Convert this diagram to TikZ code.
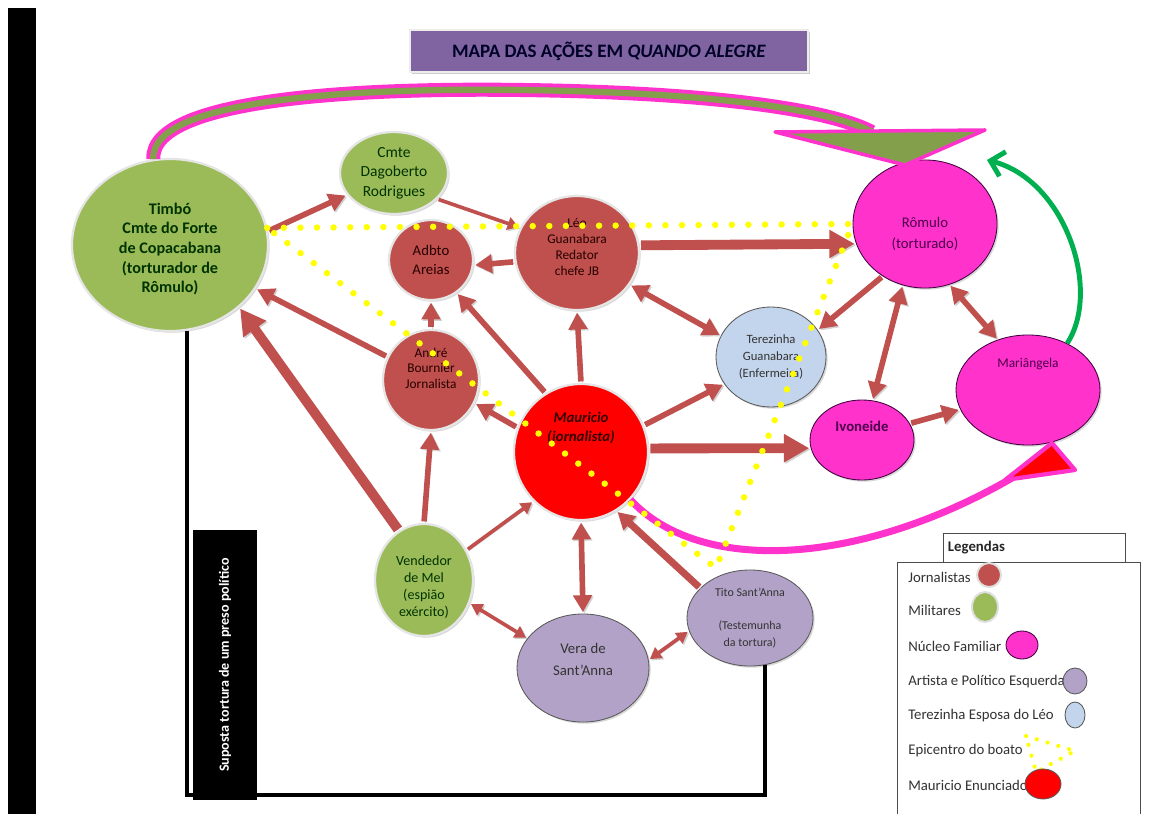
\documentclass[tikz,border=0pt]{standalone}
\usepackage{fontspec}
\setmainfont{Carlito}
\usetikzlibrary{arrows.meta,positioning,calc,shapes.geometric,shadows}

\definecolor{brick}{HTML}{C0504D}
\definecolor{milgreen}{HTML}{9BBB59}
\definecolor{famrose}{HTML}{FF33CC}
\definecolor{lilac}{HTML}{B3A2C7}
\definecolor{paleblue}{HTML}{C3D5EC}
\definecolor{titlepurple}{HTML}{8064A2}
\definecolor{arrowgreen}{HTML}{00B050}
\definecolor{boatoyellow}{HTML}{FFFF00}

\begin{document}
\begin{tikzpicture}[
    x=0.025cm,y=-0.025cm,
    font=\fontsize{10}{12}\selectfont,
    pessoa/.style={ellipse, inner sep=0pt, align=center, draw=gray!20, line width=1.6pt,
      drop shadow={shadow xshift=1.2pt, shadow yshift=-1.2pt, opacity=0.3}},
    jorn/.style={pessoa, fill=brick, text=black!85!red},
    milit/.style={pessoa, fill=milgreen, text=black!80!green},
    famil/.style={pessoa, fill=famrose, draw=violet!50!black, line width=0.6pt, text=violet!60!black},
    esq/.style={pessoa, fill=lilac, draw=gray!70!black, line width=0.6pt, text=black!80},
    tere/.style={pessoa, fill=paleblue, draw=gray!70!black, line width=0.6pt, text=black!80},
    enunc/.style={pessoa, fill=red, text=black!80!red},
    seta/.style={draw=brick, line width=4pt, -{Triangle[length=12pt,width=13pt]},
      shorten <=1pt, shorten >=1pt,
      preaction={draw=black!18, transform canvas={shift={(1pt,-1pt)}}}},
    setafina/.style={seta, line width=2.6pt, -{Triangle[length=8pt,width=9pt]}},
    setagrossa/.style={seta, line width=7pt, -{Triangle[length=18pt,width=19pt]}},
    dupla/.style={seta, {Triangle[length=12pt,width=13pt]}-{Triangle[length=12pt,width=13pt]}},
    duplafina/.style={setafina, {Triangle[length=8pt,width=9pt]}-{Triangle[length=8pt,width=9pt]}},
    boato/.style={draw=boatoyellow, line width=4.6pt, line cap=round, dash pattern=on 0pt off 11.8pt},
    legtxt/.style={anchor=west, inner sep=0pt, text=black!80, font=\fontsize{10.5}{12}\selectfont},
    legsw/.style={ellipse, inner sep=0pt, line width=0.6pt},
    linhapreta/.style={draw=black, line width=3pt}
  ]
    % fundo e moldura
    \fill[white] (0,0) rectangle (1161,814);
    \useasboundingbox (0,0) rectangle (1161,814);
    \fill[black] (8,8) rectangle (36,814);

    % titulo
    \node[fill=titlepurple, draw=gray!15, line width=1.5pt, minimum width=9.95cm, minimum height=1.05cm,
      drop shadow={shadow xshift=1.5pt, shadow yshift=-1.5pt, opacity=0.4},
      text=black!85!blue, font=\bfseries\fontsize{13.5}{16}\selectfont] (titulo) at (609,51)
      {MAPA DAS AÇÕES EM \textit{QUANDO ALEGRE}};

    % personagens
    \node[milit, minimum width=4.9cm, minimum height=4.3cm, font=\bfseries\fontsize{11.5}{14}\selectfont] (timbo) at (170,245)
      {\rule{0pt}{12pt}\\[-12pt]Timbó\\Cmte do Forte\\de Copacabana\\(torturador de\\Rômulo)};
    \node[milit, minimum width=2.7cm, minimum height=2.05cm, font=\fontsize{11}{14}\selectfont] (dago) at (394,173)
      {Cmte\\Dagoberto\\Rodrigues};
    \node[jorn, minimum width=2.1cm, minimum height=2.0cm, font=\fontsize{10.5}{14}\selectfont] (adbto) at (431,260)
      {Adbto\\Areias};
    \node[jorn, minimum width=3.1cm, minimum height=2.85cm, font=\fontsize{9.5}{11.5}\selectfont] (leo) at (577,253)
      {Léo\\Guanabara\\Redator\\chefe JB\\[-3pt]\mbox{}};
    \node[jorn, minimum width=2.4cm, minimum height=2.5cm, font=\fontsize{9.5}{11}\selectfont] (andre) at (431,380)
      {André\\Bournier\\Jornalista\\[6pt]\mbox{}};
    \node[enunc, minimum width=3.35cm, minimum height=3.4cm, font=\bfseries\itshape\fontsize{10.5}{13.5}\selectfont] (mauri) at (581,452)
      {Mauricio\\(jornalista)\\[22pt]\mbox{}};
    \node[tere, minimum width=2.75cm, minimum height=2.5cm, font=\fontsize{9}{12}\selectfont] (tere) at (771,357)
      {Terezinha\\Guanabara\\(Enfermeira)};
    \node[famil, minimum width=3.6cm, minimum height=3.2cm, font=\fontsize{10.5}{15}\selectfont] (romulo) at (925,224)
      {\rule{0pt}{15pt}\\[-9pt]Rômulo\\(torturado)};
    \node[famil, minimum width=3.6cm, minimum height=2.75cm, font=\fontsize{9.5}{12}\selectfont] (mari) at (1028,390)
      {Mariângela\\[26pt]\mbox{}};
    \node[famil, minimum width=2.6cm, minimum height=2.0cm, font=\bfseries\fontsize{10.5}{13}\selectfont] (ivo) at (862,440)
      {Ivoneide\\[6pt]\mbox{}};
    \node[milit, minimum width=2.45cm, minimum height=2.8cm, font=\fontsize{10}{12}\selectfont] (vend) at (424,580)
      {\rule{0pt}{17pt}\\[-12pt]Vendedor\\de Mel\\(espião\\exército)};
    \node[esq, minimum width=3.3cm, minimum height=2.7cm, font=\fontsize{10.5}{15.5}\selectfont] (vera) at (583,668)
      {Vera de\\Sant’Anna\\[-3pt]\mbox{}};
    \node[esq, minimum width=3.15cm, minimum height=2.4cm, font=\fontsize{8.5}{11.5}\selectfont] (tito) at (750,618)
      {Tito Sant’Anna\\[12pt](Testemunha\\da tortura)};

    % tortura suposta
    \coordinate (fundo) at (0,795);
    \draw[linhapreta] (timbo.281) -- (timbo.281 |- fundo) -| (tito.288);
    \node[fill=black, rotate=90, minimum width=6.75cm, minimum height=1.6cm, text=white,
      font=\bfseries\fontsize{10}{12}\selectfont] (caixa) at (225,665) {Suposta tortura de um preso político};

    % setas entre personagens
    \draw[seta] (timbo.8) -- (dago.205);
    \draw[setafina] (dago.329) -- (leo.156);
    \draw[seta] (leo.188) -- (adbto.353);
    \draw[setagrossa] (leo.7) -- (romulo.196);
    \draw[dupla] (leo.329) -- (tere.157);
    \draw[seta] (mauri.north) -- (leo.south);
    \draw[seta] (mauri.121) -- (adbto.308);
    \draw[seta] (andre.north) -- (adbto.south);
    \draw[seta] (andre.152) -- (timbo.333);
    \draw[seta] (mauri.159) -- (andre.332);
    \draw[setagrossa] (vend.117) -- (timbo.318);
    \draw[seta] (vend.north) -- (andre.south);
    \draw[setafina] (vend.35) -- (mauri.226);
    \draw[seta] (mauri.23) -- (tere.210);
    \draw[setagrossa] (mauri.3) -- (ivo.189);
    \draw[seta] (romulo.231) -- (tere.30);
    \draw[dupla] (romulo.250) -- (ivo.75);
    \draw[dupla] (romulo.292) -- (mari.121);
    \draw[seta] (ivo.19) -- (mari.196);
    \draw[dupla] (mauri.south) -- (vera.north);
    \draw[seta, line width=5pt] (tito.149) -- (mauri.301);
    \draw[duplafina] (vend.333) -- (vera.152);
    \draw[duplafina] (vera.7) -- (tito.192);

    % arco de Timbo a Romulo
    \coordinate (topoA) at (522,90);
    \coordinate (topoB) at (872,132);
    \draw[famrose, line width=10pt] (timbo.101) .. controls (150,95) and (380,88) .. (topoA)
      .. controls (680,92) and (820,105) .. (topoB);
    \draw[milgreen!85!black, line width=4.5pt] (timbo.101) .. controls (150,95) and (380,88) .. (topoA)
      .. controls (680,92) and (820,105) .. (topoB);
    \filldraw[fill=milgreen!85!black, draw=famrose, line width=2.5pt, line join=round]
      (775,132) -- (985,130) -- (905,165) -- cycle;

    % arco de Mauricio a Mariangela
    \coordinate (baseB) at (1012,478);
    \draw[famrose, line width=5pt] (mauri.316) .. controls (700,575) and (860,566) .. (baseB);
    \filldraw[fill=red, draw=famrose, line width=3pt, line join=round]
      (1005,480) -- (1075,470) -- (1052,443) -- cycle;

    % epicentro do boato
    \coordinate (epiC) at (716,568);
    \draw[boato] (timbo.10) -- (romulo.west) -- (epiC) -- cycle;

    % Mariangela a Romulo
    \coordinate (verdeFim) at (987,160);
    \draw[arrowgreen, line width=3.5pt, -{Straight Barb[length=9pt,width=18pt]}]
      (mari.50) .. controls (1102,290) and (1065,180) .. (verdeFim);

    % legenda
    \node[draw=black!70, line width=0.6pt, minimum width=4.55cm, minimum height=0.75cm, text width=4.3cm,
      align=left, font=\bfseries\fontsize{10.5}{12}\selectfont, text=black!85] (legcab) at (1034,548) {Legendas};
    \fill[white] (897,562) rectangle (1140,814);
    \draw[black!70, line width=0.6pt] (897,814) |- (1140,562) -- (1140,814);
    \node[legtxt] (lj) at (908,577) {Jornalistas};
    \node[legsw, fill=brick, draw=gray!25, line width=1.4pt, minimum width=0.6cm, minimum height=0.6cm] (sj) at (989,575) {};
    \node[legtxt] (lm) at (908,610) {Militares};
    \node[legsw, fill=milgreen, draw=gray!25, line width=1.4pt, minimum width=0.65cm, minimum height=0.75cm] (sm) at (985,607) {};
    \node[legtxt] (lf) at (908,646) {Núcleo Familiar};
    \node[legsw, fill=famrose, draw=violet!50!black, minimum width=0.8cm, minimum height=0.7cm] (sf) at (1022,645) {};
    \node[legtxt] (le) at (908,682) {Artista e Político Esquerda};
    \node[legsw, fill=lilac, draw=gray!70!black, minimum width=0.6cm, minimum height=0.65cm] (se) at (1075,681) {};
    \node[legtxt] (lt) at (908,716) {Terezinha Esposa do Léo};
    \node[legsw, fill=paleblue, draw=gray!70!black, minimum width=0.5cm, minimum height=0.65cm] (st) at (1075,715) {};
    \node[legtxt] (lb) at (908,751) {Epicentro do boato};
    \draw[boato, line width=3pt, dash pattern=on 0pt off 8pt] (1026,736) -- (1075,751) -- (1036,772) -- cycle;
    \node[legtxt] (lu) at (908,785) {Mauricio Enunciador};
    \node[legsw, fill=red, draw=gray!70!black, minimum width=0.9cm, minimum height=0.75cm] (su) at (1043,784) {};
  \end{tikzpicture}
\end{document}
